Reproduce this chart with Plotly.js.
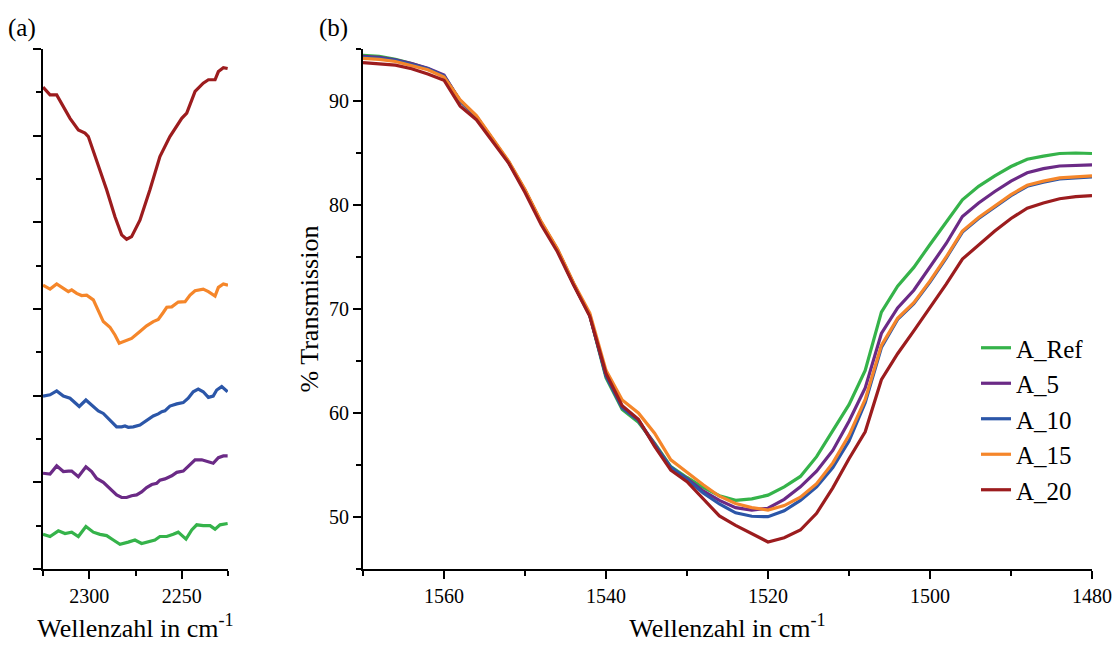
<!DOCTYPE html>
<html>
<head>
<meta charset="utf-8">
<script src="https://cdn.plot.ly/plotly-3.0.1.min.js"></script>
<style>html,body{margin:0;padding:0;background:#fff;}#chart{width:1117px;height:648px;}</style>
</head>
<body>
<div id="chart"></div>
<script>
// ---------- Panel (a): 2325-2225 cm-1, offset spectra (arbitrary units) ----------
const aRefX = [2325, 2321.2, 2316.7, 2313.1, 2309.5, 2305.9, 2301.8, 2297.8, 2294.2, 2290.6, 2287.0, 2283.4, 2278.9, 2275.3, 2271.7, 2268.1, 2264.5, 2261.8, 2258.1, 2254.6, 2251.9, 2247.7, 2244.6, 2241.9, 2238.4, 2234.7, 2232.0, 2229.3, 2225.2];
const aRefY = [0.80, 0.75, 0.88, 0.82, 0.85, 0.75, 0.98, 0.85, 0.80, 0.77, 0.67, 0.57, 0.62, 0.67, 0.59, 0.63, 0.67, 0.75, 0.75, 0.80, 0.85, 0.69, 0.90, 1.02, 1.00, 1.00, 0.92, 1.02, 1.05];

const a5X = [2325, 2321.2, 2317.6, 2314.0, 2311.3, 2309.5, 2305.9, 2301.8, 2298.7, 2296.0, 2292.4, 2288.8, 2285.2, 2282.5, 2279.8, 2277.1, 2274.4, 2271.7, 2269.0, 2266.2, 2263.5, 2261.8, 2259.1, 2255.4, 2252.7, 2249.2, 2246.5, 2242.8, 2239.2, 2236.5, 2233.0, 2230.2, 2227.5, 2225.2];
const a5Y = [2.21, 2.19, 2.38, 2.25, 2.26, 2.26, 2.13, 2.36, 2.25, 2.09, 2.00, 1.86, 1.71, 1.65, 1.65, 1.69, 1.71, 1.78, 1.88, 1.95, 1.98, 2.05, 2.08, 2.15, 2.23, 2.26, 2.38, 2.52, 2.52, 2.49, 2.44, 2.57, 2.61, 2.61];

const a10X = [2325, 2321.2, 2317.6, 2314.0, 2310.4, 2308.6, 2305.4, 2301.8, 2298.7, 2295.1, 2292.4, 2288.8, 2285.2, 2282.5, 2280.7, 2278.9, 2276.2, 2272.6, 2269.0, 2265.4, 2262.7, 2260.8, 2259.1, 2256.4, 2252.7, 2249.2, 2246.5, 2243.8, 2241.1, 2238.4, 2235.6, 2233.0, 2231.1, 2228.4, 2225.2];
const a10Y = [3.99, 4.02, 4.11, 3.99, 3.94, 3.88, 3.75, 3.90, 3.78, 3.65, 3.59, 3.44, 3.28, 3.28, 3.30, 3.27, 3.28, 3.32, 3.42, 3.53, 3.58, 3.63, 3.65, 3.76, 3.81, 3.84, 3.94, 4.09, 4.15, 4.09, 3.96, 3.99, 4.13, 4.21, 4.09];

const a15X = [2325, 2321.2, 2317.6, 2314.0, 2311.3, 2309.5, 2306.8, 2304.1, 2301.4, 2297.8, 2295.1, 2292.4, 2288.8, 2286.1, 2283.8, 2280.7, 2277.1, 2272.6, 2269.0, 2265.4, 2262.7, 2260.0, 2258.1, 2255.4, 2251.9, 2248.2, 2245.5, 2242.8, 2238.4, 2235.6, 2232.0, 2230.2, 2227.5, 2225.0];
const a15Y = [6.55, 6.46, 6.58, 6.48, 6.40, 6.44, 6.36, 6.31, 6.32, 6.21, 5.98, 5.71, 5.58, 5.40, 5.21, 5.27, 5.32, 5.48, 5.61, 5.71, 5.76, 5.92, 6.04, 6.05, 6.16, 6.17, 6.32, 6.42, 6.46, 6.40, 6.30, 6.50, 6.58, 6.55];

const a20X = [2325, 2321.2, 2317.6, 2314.0, 2310.4, 2305.9, 2302.3, 2300.5, 2296.0, 2290.6, 2286.1, 2282.5, 2279.8, 2277.1, 2272.6, 2267.2, 2261.8, 2256.4, 2250.0, 2247.3, 2242.8, 2238.4, 2235.6, 2232.0, 2230.2, 2227.5, 2225.2];
const a20Y = [11.12, 10.94, 10.94, 10.67, 10.40, 10.13, 10.06, 9.98, 9.44, 8.75, 8.13, 7.71, 7.61, 7.67, 8.05, 8.75, 9.52, 9.98, 10.40, 10.52, 11.02, 11.21, 11.29, 11.29, 11.48, 11.57, 11.55];

// ---------- Panel (b): 1570-1480 cm-1, % Transmission ----------
const wnB = [1570, 1568, 1566, 1564, 1562, 1560, 1558, 1556, 1554, 1552, 1550, 1548, 1546, 1544, 1542, 1540, 1538, 1536, 1534, 1532, 1530, 1528, 1526, 1524, 1522, 1520, 1518, 1516, 1514, 1512, 1510, 1508, 1506, 1504, 1502, 1500, 1498, 1496, 1494, 1492, 1490, 1488, 1486, 1484, 1482, 1480];
const tRef = [94.4, 94.3, 94.0, 93.6, 93.1, 92.4, 90.0, 88.5, 86.3, 84.1, 81.4, 78.3, 75.7, 72.4, 69.4, 63.4, 60.35, 59.1, 57.1, 54.85, 53.8, 52.85, 52.05, 51.6, 51.75, 52.1, 52.9, 53.9, 55.8, 58.3, 60.8, 64.1, 69.7, 72.2, 74.0, 76.2, 78.4, 80.5, 81.8, 82.8, 83.7, 84.4, 84.7, 84.95, 85.0, 84.95];
const t5 = [94.3, 94.2, 93.95, 93.6, 93.15, 92.5, 90.0, 88.5, 86.3, 84.1, 81.4, 78.3, 75.7, 72.4, 69.4, 63.6, 60.5, 59.3, 57.0, 54.7, 53.7, 52.5, 51.6, 50.9, 50.67, 50.84, 51.7, 52.9, 54.4, 56.4, 59.2, 62.4, 67.65, 70.1, 71.8, 74.0, 76.3, 78.9, 80.2, 81.3, 82.3, 83.1, 83.5, 83.75, 83.8, 83.85];
const t10 = [94.2, 94.1, 93.9, 93.5, 93.1, 92.4, 90.0, 88.5, 86.3, 84.1, 81.4, 78.3, 75.7, 72.4, 69.4, 63.6, 60.5, 59.3, 56.9, 54.8, 53.6, 52.3, 51.25, 50.4, 50.07, 50.03, 50.6, 51.6, 52.9, 54.75, 57.3, 61.0, 66.3, 69.0, 70.5, 72.6, 74.9, 77.4, 78.7, 79.8, 80.9, 81.8, 82.2, 82.5, 82.6, 82.7];
const t15 = [94.1, 94.0, 93.8, 93.4, 93.0, 92.3, 90.1, 88.6, 86.4, 84.2, 81.5, 78.4, 75.8, 72.5, 69.6, 64.1, 61.25, 60.0, 58.05, 55.5, 54.3, 53.1, 52.0, 51.3, 50.9, 50.67, 51.1, 51.9, 53.2, 55.2, 57.85, 61.3, 66.5, 69.1, 70.6, 72.7, 75.0, 77.5, 78.8, 79.9, 81.0, 81.9, 82.3, 82.6, 82.7, 82.8];
const t20 = [93.7, 93.6, 93.45, 93.1, 92.6, 92.0, 89.5, 88.2, 86.1, 84.0, 81.2, 78.1, 75.5, 72.3, 69.3, 63.8, 60.7, 59.4, 56.8, 54.5, 53.4, 51.8, 50.1, 49.2, 48.4, 47.6, 48.0, 48.75, 50.36, 52.8, 55.6, 58.2, 63.2, 65.7, 67.9, 70.1, 72.4, 74.8, 76.2, 77.5, 78.7, 79.7, 80.2, 80.6, 80.8, 80.9];

const names = ['A_Ref', 'A_5', 'A_10', 'A_15', 'A_20'];
const colors = ['#35b34a', '#6b2a86', '#2b56a8', '#f5862a', '#9c1c1e'];

const aX = [aRefX, a5X, a10X, a15X, a20X];
const aY = [aRefY, a5Y, a10Y, a15Y, a20Y];
const bY = [tRef, t5, t10, t15, t20];

const traces = [];
for (let i = 0; i < names.length; i++) {
  traces.push({
    x: aX[i], y: aY[i], xaxis: 'x', yaxis: 'y', type: 'scatter', mode: 'lines',
    name: names[i], showlegend: false,
    line: {color: colors[i], width: 3.2}
  });
}
for (let i = 0; i < names.length; i++) {
  traces.push({
    x: wnB, y: bY[i], xaxis: 'x2', yaxis: 'y2', type: 'scatter', mode: 'lines',
    name: names[i], showlegend: true,
    line: {color: colors[i], width: 3.2}
  });
}

const FONT = 'Liberation Serif';
const W = 1117, H = 648;
const yDom = [1 - 569 / H, 1 - 49 / H];

function axisBase() {
  return {
    showline: true, linecolor: '#000', linewidth: 2, mirror: false,
    showgrid: false, zeroline: false,
    ticks: 'outside', ticklen: 8, tickwidth: 2, tickcolor: '#000',
    tickfont: {family: FONT, size: 20, color: '#000'},
    fixedrange: true
  };
}

const layout = {
  width: W, height: H,
  margin: {l: 0, r: 0, t: 0, b: 0},
  paper_bgcolor: '#fff', plot_bgcolor: '#fff',
  font: {family: FONT, size: 20, color: '#000'},
  xaxis: Object.assign(axisBase(), {
    domain: [43 / W, 228 / W], range: [2325, 2225], anchor: 'y',
    tick0: 2300, dtick: 50,
    minor: {ticks: 'outside', ticklen: 5, tickwidth: 2, tickcolor: '#000', showgrid: false, dtick: 25},
    title: {text: 'Wellenzahl in cm<sup>-1</sup>', font: {family: FONT, size: 26, color: '#000'}, standoff: 13}
  }),
  yaxis: Object.assign(axisBase(), {
    domain: yDom, range: [0, 12], anchor: 'x',
    tick0: 0, dtick: 2, showticklabels: false,
    minor: {ticks: 'outside', ticklen: 5, tickwidth: 2, tickcolor: '#000', showgrid: false, dtick: 1}
  }),
  xaxis2: Object.assign(axisBase(), {
    domain: [363 / W, 1092 / W], range: [1570, 1480], anchor: 'y2',
    tick0: 1480, dtick: 20,
    minor: {ticks: 'outside', ticklen: 5, tickwidth: 2, tickcolor: '#000', showgrid: false, dtick: 10},
    title: {text: 'Wellenzahl in cm<sup>-1</sup>', font: {family: FONT, size: 26, color: '#000'}, standoff: 13}
  }),
  yaxis2: Object.assign(axisBase(), {
    domain: yDom, range: [45, 95], anchor: 'x2',
    tick0: 50, dtick: 10,
    minor: {ticks: 'outside', ticklen: 5, tickwidth: 2, tickcolor: '#000', showgrid: false, dtick: 5},
    title: {text: '% Transmission', font: {family: FONT, size: 26, color: '#000'}, standoff: 3}
  }),
  showlegend: true,
  legend: {
    x: 976 / W, y: 1 - 325 / H, xanchor: 'left', yanchor: 'top',
    bgcolor: 'rgba(0,0,0,0)', borderwidth: 0,
    font: {family: FONT, size: 25, color: '#000'},
    traceorder: 'normal', tracegroupgap: 0
  },
  annotations: [
    {text: '(a)', xref: 'paper', yref: 'paper', x: 22 / W, y: 1 - 28 / H, xanchor: 'center', yanchor: 'middle', showarrow: false, font: {family: FONT, size: 25, color: '#000'}},
    {text: '(b)', xref: 'paper', yref: 'paper', x: 333 / W, y: 1 - 28 / H, xanchor: 'center', yanchor: 'middle', showarrow: false, font: {family: FONT, size: 25, color: '#000'}}
  ]
};

Plotly.newPlot('chart', traces, layout, {displayModeBar: false, staticPlot: true});
</script>
</body>
</html>
